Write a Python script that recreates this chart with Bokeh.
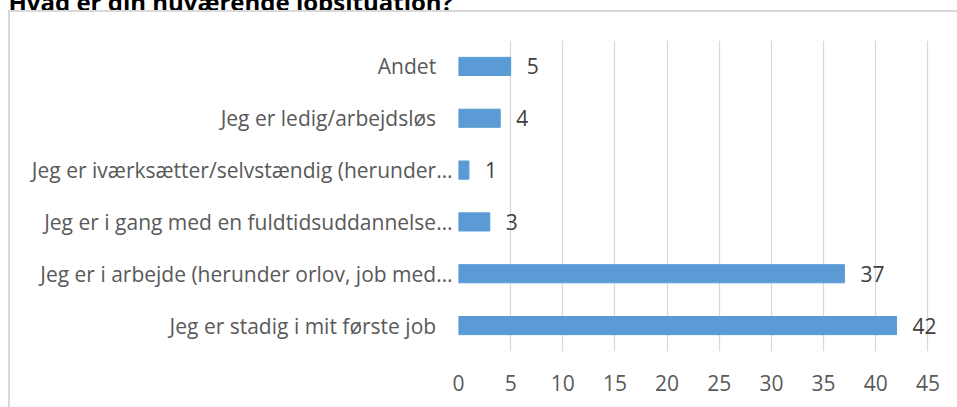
from bokeh.plotting import figure
from bokeh.layouts import column
from bokeh.models import (ColumnDataSource, Label, LabelSet, FactorRange, FixedTicker,
                          Range1d, CustomJSTickFormatter)
from bokeh.core.properties import value
from bokeh.embed import file_html
from bokeh.resources import INLINE

# ---- data ----
title_text = "Hvad er din nuværende jobsituation?"
categories = [
    "Jeg er stadig i mit første job",
    "Jeg er i arbejde (herunder orlov, job med…",
    "Jeg er i gang med en fuldtidsuddannelse…",
    "Jeg er iværksætter/selvstændig (herunder…",
    "Jeg er ledig/arbejdsløs",
    "Andet",
]
values = [42, 37, 3, 1, 4, 5]
x_ticks = [0, 5, 10, 15, 20, 25, 30, 35, 40, 45]

FONT = "Open Sans"
FS = "21px"
AXIS_COLOR = "#595959"
GRID_COLOR = "#D9D9D9"
BAR_COLOR = "#5B9BD5"

source = ColumnDataSource(dict(cat=categories, val=values, lab=[str(v) for v in values]))

# ---- title strip (mostly above the visible page, as in the reference) ----
tf = figure(width=957, height=18, x_range=Range1d(0, 957), y_range=Range1d(0, 18),
            x_axis_location=None, y_axis_location=None, min_border=0,
            output_backend="svg", toolbar_location=None)
if "frame_align" in tf.properties():
    tf.frame_align = False
tf.outline_line_color = None
tf.border_fill_color = "white"
tf.background_fill_color = "white"
tf.grid.visible = False
tf.add_layout(Label(x=8, y=9, text=title_text, text_font=FONT, text_font_style="bold",
                    text_font_size="24px", text_color="#000000",
                    text_baseline="alphabetic", text_align="left"))

# ---- chart ----
p = figure(
    width=957, height=397,
    y_range=FactorRange(factors=categories),
    x_range=Range1d(0, 47.36),
    output_backend="svg", toolbar_location=None,
    min_border_left=458, min_border_right=5,
    min_border_top=30, min_border_bottom=56,
)
if "frame_align" in p.properties():
    p.frame_align = False
p.border_fill_color = None
p.background_fill_color = None
p.outline_line_color = None
p.styles = {
    "background": (
        "linear-gradient(#D9D9D9,#D9D9D9) 8px 0px / 100% 2px no-repeat, "
        "linear-gradient(#D9D9D9,#D9D9D9) 8px 0px / 2px 100% no-repeat, #FFFFFF"
    ),
}

p.hbar(y="cat", right="val", left=0, height=0.35, source=source,
       fill_color=BAR_COLOR, line_color=BAR_COLOR)

labels = LabelSet(x="val", y="cat", text="lab", source=source,
                  x_offset=16, text_align="left", text_baseline="middle",
                  text_font=value(FONT), text_font_size=value(FS), text_color="#404040")
p.add_layout(labels)

# axes
p.xaxis.ticker = FixedTicker(ticks=x_ticks)
p.xaxis.axis_line_color = None
p.xaxis.major_tick_line_color = None
p.xaxis.minor_tick_line_color = None
p.xaxis.major_label_standoff = 17
p.xaxis.major_label_text_font = FONT
p.xaxis.major_label_text_font_size = FS
p.xaxis.major_label_text_color = AXIS_COLOR

p.yaxis.axis_line_color = None
p.yaxis.major_tick_line_color = None
p.yaxis.minor_tick_line_color = None
p.yaxis.major_label_standoff = 0
p.yaxis.major_label_text_font = FONT
p.yaxis.major_label_text_font_size = FS
p.yaxis.major_label_text_color = AXIS_COLOR
# full (non-truncated) labels sit a little further from the axis, as in the reference
p.yaxis.formatter = CustomJSTickFormatter(
    code="return tick.endsWith('\u2026') ? tick : tick + '\u00a0\u00a0\u00a0\u2060';")

p.xgrid.ticker = FixedTicker(ticks=x_ticks)
p.xgrid.grid_line_color = GRID_COLOR
p.xgrid.grid_line_width = 1.3
p.ygrid.grid_line_color = None

layout = column(tf, p, spacing=0, styles={"margin-top": "-8px"})

open("out.html", "w").write(file_html(layout, INLINE))
